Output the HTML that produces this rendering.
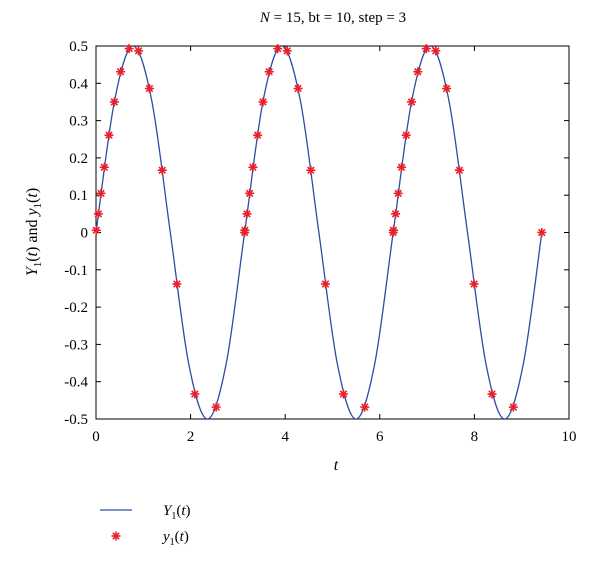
<!DOCTYPE html>
<html><head><meta charset="utf-8"><style>
body{margin:0;background:#fff;}
svg text{font-family:"Liberation Serif",serif;fill:#000;}
</style></head><body>
<svg id="chart" width="600" height="564" xmlns="http://www.w3.org/2000/svg">
<g id="grid"></g>
<rect x="96" y="46" width="473" height="373" fill="none" stroke="#000" stroke-width="1"/>
<text x="333" y="22" font-size="15" text-anchor="middle"><tspan font-style="italic">N</tspan> = 15, bt = 10, step = 3</text>
<text x="336" y="470" font-size="16" font-style="italic" text-anchor="middle">t</text>
<text transform="translate(37,232) rotate(-90)" font-size="16" text-anchor="middle"><tspan font-style="italic">Y</tspan><tspan font-size="11" dy="4">1</tspan><tspan dy="-4">(</tspan><tspan font-style="italic">t</tspan>) and <tspan font-style="italic">y</tspan><tspan font-size="11" dy="4">1</tspan><tspan dy="-4">(</tspan><tspan font-style="italic">t</tspan>)</text>
<g>
<line x1="100" y1="510" x2="132" y2="510" stroke="#2b4ea2" stroke-width="1.2"/>
<text x="163" y="515" font-size="15"><tspan font-style="italic">Y</tspan><tspan font-size="10" dy="4">1</tspan><tspan dy="-4">(</tspan><tspan font-style="italic">t</tspan>)</text>
<g id="legstar"></g>
<text x="163" y="541" font-size="15"><tspan font-style="italic">y</tspan><tspan font-size="10" dy="4">1</tspan><tspan dy="-4">(</tspan><tspan font-style="italic">t</tspan>)</text>
</g>
<g id="plot"></g>
</svg>
<script>
const xTicks=[0,2,4,6,8,10];
const yTicks=[-0.5,-0.4,-0.3,-0.2,-0.1,0,0.1,0.2,0.3,0.4,0.5];
const yTickLabels=["-0.5","-0.4","-0.3","-0.2","-0.1","0","0.1","0.2","0.3","0.4","0.5"];
const curveT=[0,0.393,0.785,1.178,1.571,1.963,2.356,2.749,3.142,3.534,3.927,4.320,4.712,5.105,5.498,5.890,6.283,6.676,7.069,7.461,7.854,8.247,8.639,9.032,9.425];
const curveY=[0,0.354,0.5,0.354,0,-0.354,-0.5,-0.354,0,0.354,0.5,0.354,0,-0.354,-0.5,-0.354,0,0.354,0.5,0.354,0,-0.354,-0.5,-0.354,0];
const starT=[0.006,0.05,0.106,0.176,0.275,0.388,0.52,0.70,0.90,1.13,1.40,1.71,2.09,2.54,
3.142,3.148,3.192,3.248,3.318,3.417,3.530,3.662,3.842,4.042,4.272,4.542,4.852,5.232,5.682,
6.283,6.289,6.333,6.389,6.459,6.558,6.671,6.803,6.983,7.183,7.413,7.683,7.993,8.373,8.823,9.425];
const starY=[0.006,0.05,0.105,0.175,0.261,0.350,0.431,0.493,0.487,0.386,0.167,-0.138,-0.433,-0.468,
0,0.006,0.05,0.105,0.175,0.261,0.350,0.431,0.493,0.487,0.386,0.167,-0.138,-0.433,-0.468,
0,0.006,0.05,0.105,0.175,0.261,0.350,0.431,0.493,0.487,0.386,0.167,-0.138,-0.433,-0.468,0];
const NS="http://www.w3.org/2000/svg";
const X=v=>96+v*47.3, Y=v=>232.5-v*373;
function mk(tag,attrs,parent){const e=document.createElementNS(NS,tag);for(const k in attrs)e.setAttribute(k,attrs[k]);parent.appendChild(e);return e;}
const grid=document.getElementById('grid'), plot=document.getElementById('plot');
xTicks.forEach(v=>{
 const g=mk('g',{},grid);
 
 
 mk('line',{x1:X(v),x2:X(v),y1:419,y2:414,stroke:'#000'},g);
 mk('line',{x1:X(v),x2:X(v),y1:46,y2:51,stroke:'#000'},g);
 const t=mk('text',{x:X(v),y:441,'font-size':15,'text-anchor':'middle'},g);t.textContent=v;
});
yTicks.forEach((v,i)=>{
 const g=mk('g',{},grid);
 
 
 mk('line',{x1:96,x2:101,y1:Y(v),y2:Y(v),stroke:'#000'},g);
 mk('line',{x1:569,x2:564,y1:Y(v),y2:Y(v),stroke:'#000'},g);
 const t=mk('text',{x:88,y:Y(v)+5,'font-size':15,'text-anchor':'end'},g);t.textContent=yTickLabels[i];
});
let d='M'+X(curveT[0])+','+Y(curveY[0]);
for(let i=0;i<curveT.length-1;i++){
 const p0=i>0?i-1:i,p3=i+2<curveT.length?i+2:i+1;
 const c1x=X(curveT[i])+(X(curveT[i+1])-X(curveT[p0]))/6, c1y=Y(curveY[i])+(Y(curveY[i+1])-Y(curveY[p0]))/6;
 const c2x=X(curveT[i+1])-(X(curveT[p3])-X(curveT[i]))/6, c2y=Y(curveY[i+1])-(Y(curveY[p3])-Y(curveY[i]))/6;
 d+=' C'+c1x+','+c1y+' '+c2x+','+c2y+' '+X(curveT[i+1])+','+Y(curveY[i+1]);
}
const cp=mk('clipPath',{id:'clip'},document.getElementById('chart'));
mk('rect',{x:96,y:46,width:473,height:373},cp);
const line=mk('path',{d:d,fill:'none',stroke:'#2b4ea2','stroke-width':1.3,'clip-path':'url(#clip)'},plot);


function star(cx,cy,parent){
 const g=mk('g',{stroke:'#e8202a','stroke-width':1.6},parent);
 const r=4.5,q=3.2;
 mk('line',{x1:cx-r,y1:cy,x2:cx+r,y2:cy},g);
 mk('line',{x1:cx,y1:cy-r,x2:cx,y2:cy+r},g);
 mk('line',{x1:cx-q,y1:cy-q,x2:cx+q,y2:cy+q},g);
 mk('line',{x1:cx-q,y1:cy+q,x2:cx+q,y2:cy-q},g);
 return g;
}
starT.forEach((t,i)=>{
 const g=star(X(t),Y(starY[i]),plot);
 
 
});
star(116,536,document.getElementById('legstar'));
</script>
</body></html>
